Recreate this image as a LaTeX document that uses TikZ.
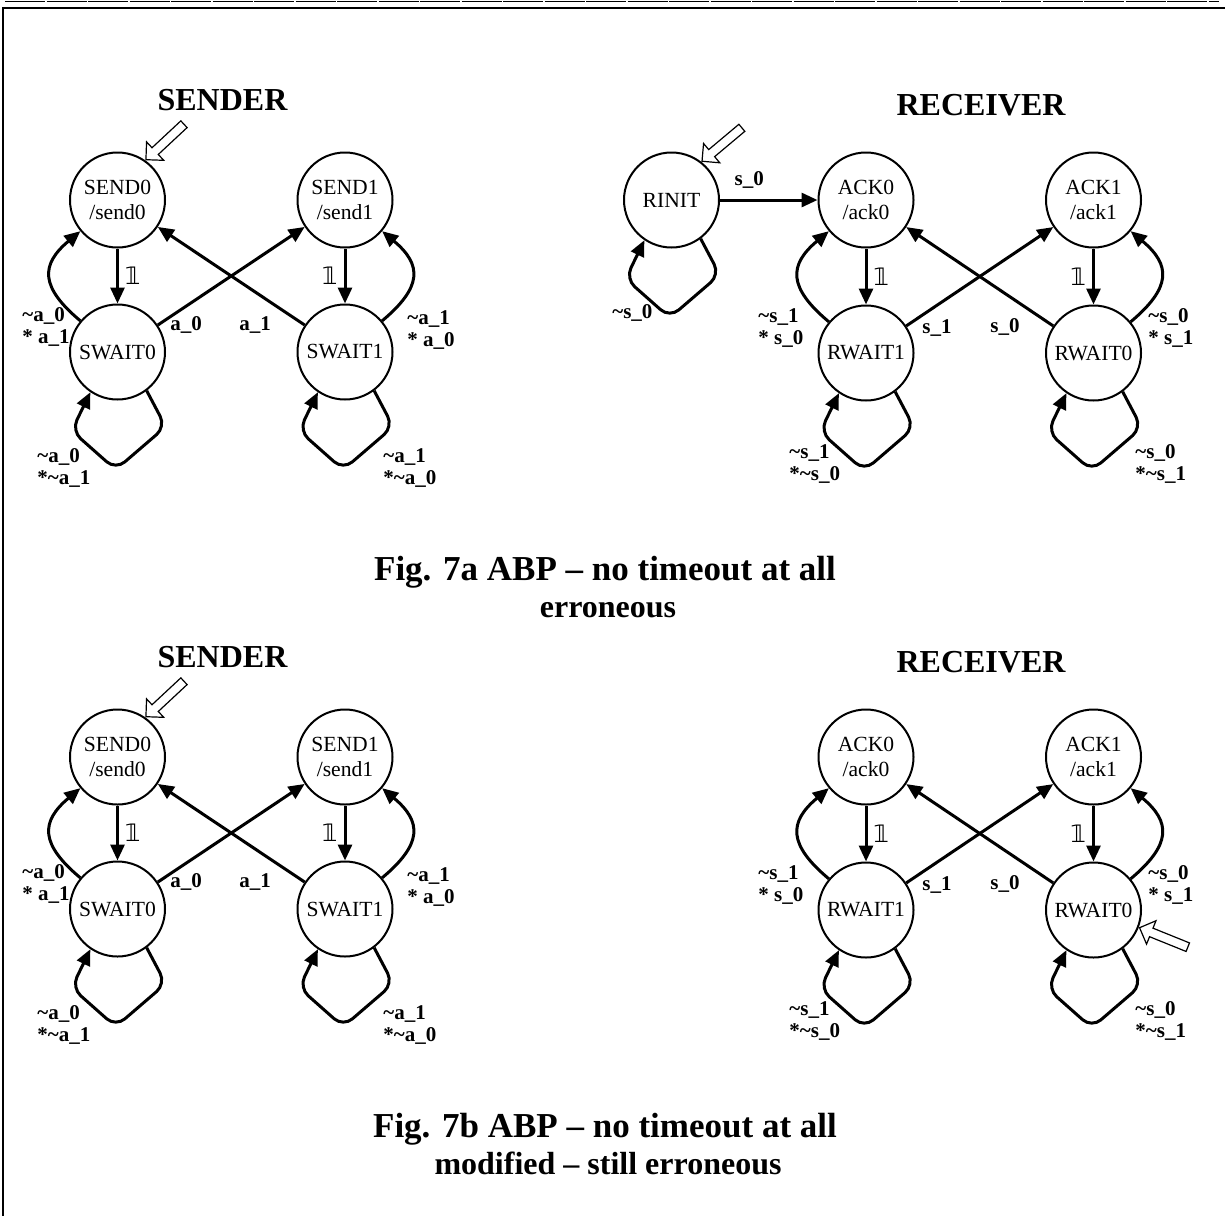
\documentclass[tikz,border=0pt]{standalone}
\usepackage{fontspec}
\setmainfont{Liberation Serif}
\newfontfamily\dsfam{DejaVu Sans}
\newcommand{\dsone}{{\dsfam\iffontchar\font"1D7D9\relax\char"1D7D9\relax\else\rmfamily 1\kern-0.3em l\fi}}
\usepackage{tikz}
\usetikzlibrary{arrows.meta,positioning,shapes.arrows}

\begin{document}
\begin{tikzpicture}[x=0.5pt, y=0.5pt, node distance=113.75pt]

\tikzstyle{state} = [circle, draw=black, line width=1pt, minimum size=47.5pt, inner sep=0pt, align=center, font=\fontsize{10.8}{12.5}\selectfont]
\tikzstyle{arrow} = [line width=1.5pt, -{Triangle[length=8pt, width=7pt]}]
\tikzstyle{selfloop} = [to path={(\tikztostart.-53) [rounded corners=6pt] -- ++(19,-36) -- ++(-50,-43) -- ++(-44,39) -- (\tikztotarget.-124)}]
\tikzstyle{lbl} = [inner sep=0pt, align=left, anchor=west, font=\fontsize{10.5}{11}\bfseries]
\tikzstyle{one} = [inner sep=3pt, font=\fontsize{12}{12}\selectfont]
\tikzstyle{init} = [single arrow, draw=black, fill=white, line width=0.6pt, minimum height=26pt, inner xsep=0pt, inner ysep=2pt, single arrow head extend=4pt, anchor=tip]
\tikzstyle{title} = [anchor=base, font=\fontsize{16}{19}\bfseries]
\tikzstyle{capt} = [anchor=base, inner sep=0pt, font=\fontsize{17.5}{20}\bfseries]
\tikzstyle{subcapt} = [anchor=base, inner sep=0pt, font=\fontsize{16}{19}\bfseries]

\useasboundingbox (0,0) rectangle (1225,-1216);

% rule on top of the page and the frame
\draw [line width=0.5pt, dash pattern=on 20pt off 0.75pt] (5,-1.5) -- (1219,-1.5);
\draw [line width=1.3pt] (1225,-8) -- (3,-8) -- (3,-1216);

%%%%%%%%%%%%%%%% Fig. 7a
% sender
\node (tsend) [title] at (222.5,-110) {SENDER};
\node (s0) [state] at (117.5,-200) {SEND0\\/send0};
\node (s1) [state, right of=s0] {SEND1\\/send1};
\node (sw0) [state, node distance=76pt, below of=s0] {SWAIT0};
\node (sw1) [state, right of=sw0] {SWAIT1};
\node (is0) [init, rotate=223] at (s0.55) {};

\draw [arrow] (s0) -- node[one, right] {\dsone} (sw0);
\draw [arrow] (s1) -- node[one, left] {\dsone} (sw1);
\draw [arrow] (sw0) -- (s1);
\draw [arrow] (sw1) -- (s0);
\draw [arrow] (sw0) to[out=140, in=-140, looseness=1.5] (s0);
\draw [arrow] (sw1) to[out=40, in=-40, looseness=1.5] (s1);
\draw [arrow] (sw0) to[selfloop] (sw0);
\draw [arrow] (sw1) to[selfloop] (sw1);

\node (ls0) [lbl] at (22,-327) {\textasciitilde a\_0\\* a\_1};
\node (la0) [lbl, anchor=center] at (186,-325) {a\_0};
\node (la1) [lbl, anchor=center] at (255,-325) {a\_1};
\node (ls1) [lbl] at (407,-330) {\textasciitilde a\_1\\* a\_0};
\node (lw0) [lbl] at (37,-468) {\textasciitilde a\_0\\*\textasciitilde a\_1};
\node (lw1) [lbl] at (383,-468) {\textasciitilde a\_1\\*\textasciitilde a\_0};

% receiver
\node (trec) [title] at (981,-115) {RECEIVER};
\node (a0) [state] at (866,-200) {ACK0\\/ack0};
\node (rinit) [state, node distance=97.25pt, left of=a0] {RINIT};
\node (a1) [state, right of=a0] {ACK1\\/ack1};
\node (r1) [state, node distance=76.5pt, below of=a0] {RWAIT1};
\node (r0) [state, right of=r1] {RWAIT0};
\node (irinit) [init, rotate=220] at (rinit.52) {};

\draw [arrow] (rinit) -- node[lbl, anchor=south, pos=0.3, yshift=5pt] {s\_0} (a0);
\draw [arrow] (rinit) to[selfloop] (rinit);
\draw [arrow] (a0) -- node[one, right] {\dsone} (r1);
\draw [arrow] (a1) -- node[one, left] {\dsone} (r0);
\draw [arrow] (r1) -- (a1);
\draw [arrow] (r0) -- (a0);
\draw [arrow] (r1) to[out=140, in=-140, looseness=1.5] (a0);
\draw [arrow] (r0) to[out=40, in=-40, looseness=1.5] (a1);
\draw [arrow] (r1) to[selfloop] (r1);
\draw [arrow] (r0) to[selfloop] (r0);

\node (lri) [lbl] at (612,-313) {\textasciitilde s\_0};
\node (lr1) [lbl] at (758,-328) {\textasciitilde s\_1\\* s\_0};
\node (ls1r) [lbl, anchor=center] at (937,-328) {s\_1};
\node (ls0r) [lbl, anchor=center] at (1005,-327) {s\_0};
\node (lr0) [lbl] at (1148,-328) {\textasciitilde s\_0\\* s\_1};
\node (lq1) [lbl] at (789,-464) {\textasciitilde s\_1\\*\textasciitilde s\_0};
\node (lq0) [lbl] at (1135,-464) {\textasciitilde s\_0\\*\textasciitilde s\_1};

\node (cap7a) [capt] at (605,-580) {Fig. 7a ABP – no timeout at all};
\node (sub7a) [subcapt] at (608,-617) {erroneous};

%%%%%%%%%%%%%%%% Fig. 7b
\begin{scope}[yshift=-278.5pt]
% sender
\node (btsend) [title] at (222.5,-110) {SENDER};
\node (bs0) [state] at (117.5,-200) {SEND0\\/send0};
\node (bs1) [state, right of=bs0] {SEND1\\/send1};
\node (bsw0) [state, node distance=76pt, below of=bs0] {SWAIT0};
\node (bsw1) [state, right of=bsw0] {SWAIT1};
\node (ibs0) [init, rotate=223] at (bs0.55) {};

\draw [arrow] (bs0) -- node[one, right] {\dsone} (bsw0);
\draw [arrow] (bs1) -- node[one, left] {\dsone} (bsw1);
\draw [arrow] (bsw0) -- (bs1);
\draw [arrow] (bsw1) -- (bs0);
\draw [arrow] (bsw0) to[out=140, in=-140, looseness=1.5] (bs0);
\draw [arrow] (bsw1) to[out=40, in=-40, looseness=1.5] (bs1);
\draw [arrow] (bsw0) to[selfloop] (bsw0);
\draw [arrow] (bsw1) to[selfloop] (bsw1);

\node (bls0) [lbl] at (22,-327) {\textasciitilde a\_0\\* a\_1};
\node (bla0) [lbl, anchor=center] at (186,-325) {a\_0};
\node (bla1) [lbl, anchor=center] at (255,-325) {a\_1};
\node (bls1) [lbl] at (407,-330) {\textasciitilde a\_1\\* a\_0};
\node (blw0) [lbl] at (37,-468) {\textasciitilde a\_0\\*\textasciitilde a\_1};
\node (blw1) [lbl] at (383,-468) {\textasciitilde a\_1\\*\textasciitilde a\_0};

% receiver
\node (btrec) [title] at (981,-115) {RECEIVER};
\node (ba0) [state] at (866,-200) {ACK0\\/ack0};
\node (ba1) [state, right of=ba0] {ACK1\\/ack1};
\node (br1) [state, node distance=76.5pt, below of=ba0] {RWAIT1};
\node (br0) [state, right of=br1] {RWAIT0};
\node (ibr0) [init, rotate=158] at (br0.-21) {};

\draw [arrow] (ba0) -- node[one, right] {\dsone} (br1);
\draw [arrow] (ba1) -- node[one, left] {\dsone} (br0);
\draw [arrow] (br1) -- (ba1);
\draw [arrow] (br0) -- (ba0);
\draw [arrow] (br1) to[out=140, in=-140, looseness=1.5] (ba0);
\draw [arrow] (br0) to[out=40, in=-40, looseness=1.5] (ba1);
\draw [arrow] (br1) to[selfloop] (br1);
\draw [arrow] (br0) to[selfloop] (br0);

\node (blr1) [lbl] at (758,-328) {\textasciitilde s\_1\\* s\_0};
\node (bls1r) [lbl, anchor=center] at (937,-328) {s\_1};
\node (bls0r) [lbl, anchor=center] at (1005,-327) {s\_0};
\node (blr0) [lbl] at (1148,-328) {\textasciitilde s\_0\\* s\_1};
\node (blq1) [lbl] at (789,-464) {\textasciitilde s\_1\\*\textasciitilde s\_0};
\node (blq0) [lbl] at (1135,-464) {\textasciitilde s\_0\\*\textasciitilde s\_1};

\node (cap7b) [capt] at (605,-580) {Fig. 7b ABP – no timeout at all};
\node (sub7b) [subcapt] at (608,-617) {modified – still erroneous};
\end{scope}
\end{tikzpicture}
\end{document}
